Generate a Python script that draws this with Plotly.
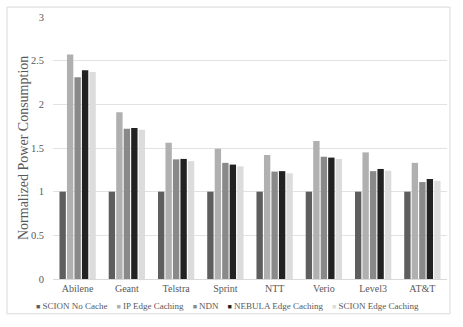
import plotly.graph_objects as go

# === Data ===
topologies = ["Abilene", "Geant", "Telstra", "Sprint", "NTT", "Verio", "Level3", "AT&T"]
scion_no_cache = [1, 1, 1, 1, 1, 1, 1, 1]
ip_edge = [2.57, 1.91, 1.56, 1.49, 1.42, 1.58, 1.45, 1.33]
ndn = [2.31, 1.72, 1.37, 1.33, 1.23, 1.40, 1.235, 1.11]
nebula_edge = [2.39, 1.73, 1.375, 1.31, 1.235, 1.39, 1.26, 1.145]
scion_edge = [2.37, 1.71, 1.35, 1.29, 1.21, 1.375, 1.24, 1.125]

series = [
    ("SCION No Cache", scion_no_cache, "#5e5e5e"),
    ("IP Edge Caching", ip_edge, "#b0b0b0"),
    ("NDN", ndn, "#898989"),
    ("NEBULA Edge Caching", nebula_edge, "#222222"),
    ("SCION Edge Caching", scion_edge, "#dcdcdc"),
]

FONT = "Liberation Serif"
GREY = "#595959"

fig = go.Figure()
for name, vals, color in series:
    fig.add_trace(go.Bar(x=topologies, y=vals, name=name, marker=dict(color=color, line=dict(width=0))))

# legend drawn as one centred line of text (Excel-style small squares)
legend_text = ("\u00a0" * 4).join(
    f"<span style='color:{c};font-size:7px'>■</span>\u00a0{n}" for n, _, c in series
)
fig.add_annotation(
    text=legend_text, xref="paper", yref="paper", x=0.443, y=-0.102,
    xanchor="center", yanchor="middle", showarrow=False,
    font=dict(family=FONT, size=9, color=GREY),
)

# y axis title
fig.add_annotation(
    text="Normalized Power Consumption", xref="paper", yref="paper",
    x=-0.0761, y=0.5, xanchor="center", yanchor="middle", textangle=-90,
    showarrow=False, font=dict(family=FONT, size=14, color=GREY),
)

# outer chart border
fig.add_shape(
    type="rect", xref="paper", yref="paper",
    x0=-0.1168, x1=1.0076, y0=-0.1326, y1=1.0379,
    line=dict(color="#d9d9d9", width=1), layer="above",
)

fig.update_layout(
    width=463, height=327,
    margin=dict(l=53, r=16, t=15, b=48),
    paper_bgcolor="white", plot_bgcolor="white",
    barmode="group", bargap=0.24, bargroupgap=0.15,
    showlegend=False,
    font=dict(family=FONT, color=GREY, size=10),
)
fig.update_xaxes(
    showgrid=False, showline=True, linecolor="#d9d9d9", linewidth=1,
    tickfont=dict(family=FONT, size=10, color=GREY),
)
fig.update_yaxes(
    range=[0, 3], dtick=0.5, showgrid=True, gridcolor="#e2e2e2", gridwidth=1,
    zeroline=False, showline=False, ticklabelstandoff=8,
    tickfont=dict(family=FONT, size=10.5, color=GREY),
)

# page body has a default 8px margin; drop it so the chart sits at the window corner
fig.write_html(
    "out.html",
    config={"displayModeBar": False},
    post_script="document.body.style.margin = '0';",
)
